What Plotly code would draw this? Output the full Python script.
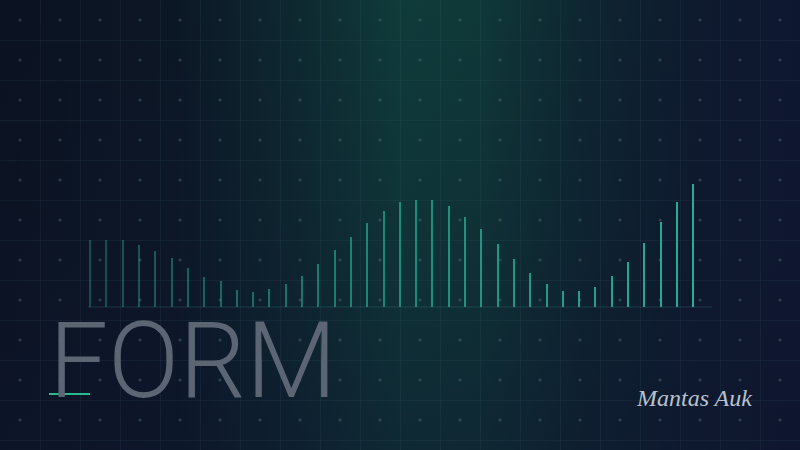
import numpy as np
import plotly.graph_objects as go

# --- data: bar heights (px above baseline), left to right ---
heights = [67, 67, 67, 62, 56, 49, 39, 30, 26, 17, 15, 18, 23, 31, 43, 57, 70, 84, 96,
           105, 107, 107, 101, 90, 78, 63, 48, 34, 23, 16, 16, 20, 31, 45, 64, 85, 105, 123]
bar_idx = list(range(len(heights)))

title_text = "FORM"
signature = "Mantas Auk"

W, H = 800, 450
STEP = 16.3            # px between bars
X0 = 90                # px of first bar
BASE = 307             # baseline px from top

# bar opacity rises left to right
alphas = np.linspace(0.35, 0.95, len(heights))
bar_colors = [f"rgba(38,185,155,{a:.2f})" for a in alphas]

fig = go.Figure()

# --- background gradient (subplot xy) ---
rect_x = [0, W, W, 0, 0]
rect_y = [0, 0, H, H, 0]
fig.add_trace(go.Scatter(
    x=rect_x, y=rect_y, fill="toself", mode="lines", line=dict(width=0),
    fillgradient=dict(type="horizontal", colorscale=[
        [0.0, "#0b1221"], [0.22, "#0c1726"], [0.38, "#0e2a31"], [0.5, "#0f3b3a"],
        [0.6, "#0f3838"], [0.73, "#0e2631"], [0.87, "#0e1a2e"], [1.0, "#0e1730"]]),
    hoverinfo="skip", showlegend=False, xaxis="x", yaxis="y"))
fig.add_trace(go.Scatter(
    x=rect_x, y=rect_y, fill="toself", mode="lines", line=dict(width=0),
    fillgradient=dict(type="vertical", colorscale=[
        [0.0, "rgba(14,22,46,0.5)"], [0.5, "rgba(14,22,46,0.2)"], [1.0, "rgba(14,22,46,0)"]]),
    hoverinfo="skip", showlegend=False, xaxis="x", yaxis="y"))

# --- grid dots (subplot x2y2, carries the grid lines) ---
gx, gy = np.meshgrid(np.arange(20, W, 40), np.arange(20, H, 40))
fig.add_trace(go.Scatter(
    x=gx.ravel(), y=gy.ravel(), mode="markers",
    marker=dict(size=3, color="rgba(95,125,135,0.4)"),
    hoverinfo="skip", showlegend=False, xaxis="x2", yaxis="y2"))

# --- bars (subplot x3y3) ---
fig.add_trace(go.Bar(
    x=bar_idx, y=heights, width=0.12, marker=dict(color=bar_colors, line=dict(width=0)),
    hoverinfo="skip", showlegend=False, xaxis="x3", yaxis="y3"))

bg_axis = dict(showticklabels=False, ticks="", zeroline=False, showline=False)
bar_left = (X0 - STEP / 2) / W
bar_right = (X0 + STEP * (len(heights) - 0.5)) / W
base_frac = (H - BASE) / H
grid_col = "rgba(70,105,120,0.13)"

fig.update_layout(
    width=W, height=H,
    margin=dict(l=0, r=0, t=0, b=0),
    paper_bgcolor="#0c1322", plot_bgcolor="rgba(0,0,0,0)",
    bargap=0,
    xaxis=dict(domain=[0, 1], range=[0, W], showgrid=False, **bg_axis),
    yaxis=dict(domain=[0, 1], range=[H, 0], showgrid=False, **bg_axis),
    xaxis2=dict(domain=[0, 1], range=[0, W], showgrid=True, tick0=0, dtick=40,
                gridcolor=grid_col, gridwidth=1, anchor="y2", **bg_axis),
    yaxis2=dict(domain=[0, 1], range=[H, 0], showgrid=True, tick0=0, dtick=40,
                gridcolor=grid_col, gridwidth=1, anchor="x2", **bg_axis),
    xaxis3=dict(domain=[bar_left, bar_right], range=[-0.5, len(heights) - 0.5],
                showgrid=False, anchor="y3", **bg_axis),
    yaxis3=dict(domain=[base_frac, base_frac + 150 / H], range=[0, 150],
                showgrid=False, anchor="x3", **bg_axis),
    shapes=[
        # baseline
        dict(type="line", xref="paper", yref="paper", x0=88 / W, x1=712 / W,
             y0=base_frac, y1=base_frac, line=dict(color="rgba(70,130,140,0.3)", width=1)),
        # green underline
        dict(type="line", xref="paper", yref="paper", x0=49 / W, x1=90 / W,
             y0=(H - 394) / H, y1=(H - 394) / H, line=dict(color="#2bb88f", width=2)),
    ],
    annotations=[
        dict(text=title_text, xref="paper", yref="paper", x=47 / W, y=(H - 425) / H,
             xanchor="left", yanchor="bottom", showarrow=False,
             font=dict(family="Roboto", size=105, color="#5b6573", weight=300)),
        dict(text=signature, xref="paper", yref="paper", x=694 / W, y=(H - 398) / H,
             xanchor="center", yanchor="middle", showarrow=False,
             font=dict(family="Liberation Serif", size=24, color="#b9c1cc", style="italic")),
    ],
)

fig.write_html("out.html", config={"displayModeBar": False},
               post_script="document.body.style.margin='0';"
               "document.body.style.overflow='hidden';")
